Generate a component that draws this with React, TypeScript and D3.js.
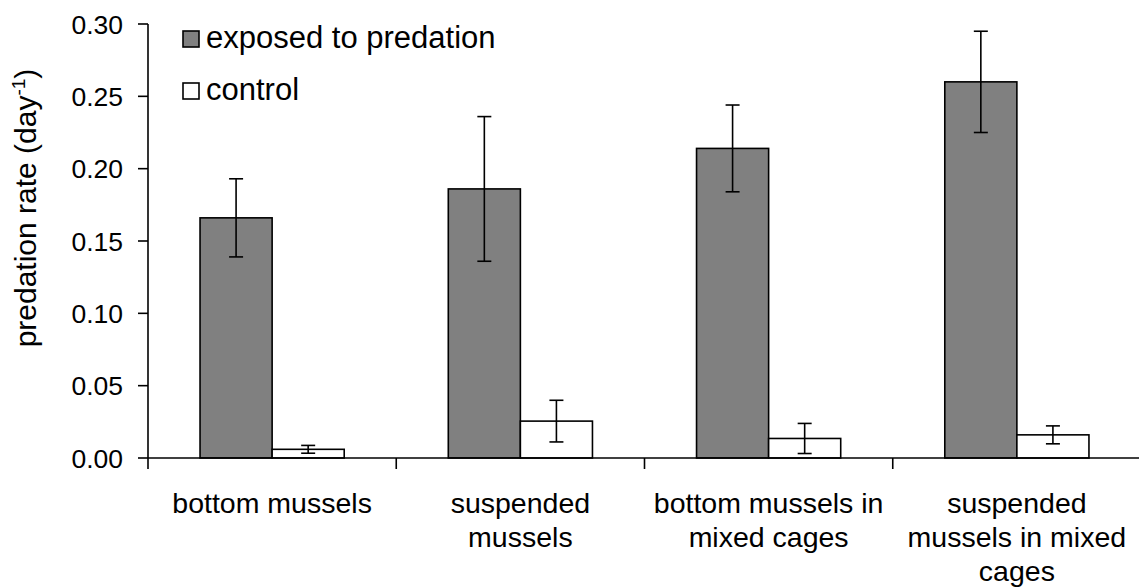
import React from "react";
import * as d3 from "d3";

const categories = [
  "bottom mussels",
  "suspended mussels",
  "bottom mussels in mixed cages",
  "suspended mussels in mixed cages",
];
const categoryLines = [
  ["bottom mussels"],
  ["suspended", "mussels"],
  ["bottom mussels in", "mixed cages"],
  ["suspended", "mussels in mixed", "cages"],
];
const seriesNames = ["exposed to predation", "control"];
const exposed = [0.166, 0.186, 0.214, 0.26];
const exposedErr = [0.027, 0.05, 0.03, 0.035];
const control = [0.006, 0.0255, 0.0135, 0.016];
const controlErr = [0.0027, 0.0144, 0.0104, 0.0062];
const yTicks = [0, 0.05, 0.1, 0.15, 0.2, 0.25, 0.3];

const W = 1139;
const H = 587;
const FONT = "'Liberation Sans', Arial, sans-serif";

export default function App() {
  const left = 148;
  const right = 1141;
  const top = 24;
  const bottom = 458;

  const y = d3.scaleLinear().domain([0, 0.3]).range([bottom, top]);
  const x0 = d3.scaleBand<string>().domain(categories).range([left, right]).padding(0);
  const x1 = d3
    .scaleBand<string>()
    .domain(seriesNames)
    .range([0, x0.bandwidth()])
    .paddingInner(0)
    .paddingOuter(0.722);

  const series = [
    { name: seriesNames[0], values: exposed, errs: exposedErr, fill: "#808080" },
    { name: seriesNames[1], values: control, errs: controlErr, fill: "#ffffff" },
  ];

  const capHalf = 7;

  return (
    <svg
      width={W}
      height={H}
      style={{ position: "absolute", left: 0, top: 0, background: "#fff" }}
      fontFamily={FONT}
    >
      {/* bars */}
      {series.map((s) =>
        categories.map((c, i) => {
          const bx = x0(c)! + x1(s.name)!;
          return (
            <rect
              key={s.name + c}
              x={bx}
              y={y(s.values[i])}
              width={x1.bandwidth()}
              height={y(0) - y(s.values[i])}
              fill={s.fill}
              stroke="#000"
              strokeWidth={1.6}
            />
          );
        })
      )}
      {/* error bars */}
      {series.map((s) =>
        categories.map((c, i) => {
          const cx = x0(c)! + x1(s.name)! + x1.bandwidth() / 2;
          const hi = y(s.values[i] + s.errs[i]);
          const lo = y(s.values[i] - s.errs[i]);
          return (
            <g key={"e" + s.name + c} stroke="#000" strokeWidth={1.6}>
              <line x1={cx} x2={cx} y1={hi} y2={lo} />
              <line x1={cx - capHalf} x2={cx + capHalf} y1={hi} y2={hi} />
              <line x1={cx - capHalf} x2={cx + capHalf} y1={lo} y2={lo} />
            </g>
          );
        })
      )}
      {/* y axis */}
      <line x1={left} x2={left} y1={top} y2={bottom} stroke="#000" strokeWidth={1.6} />
      {yTicks.map((t) => (
        <g key={"yt" + t}>
          <line x1={left - 10} x2={left} y1={y(t)} y2={y(t)} stroke="#000" strokeWidth={1.6} />
          <text
            x={123}
            y={y(t)}
            dy="0.36em"
            textAnchor="end"
            fontSize={26.5}
            fill="#000"
          >
            {t.toFixed(2)}
          </text>
        </g>
      ))}
      {/* x axis */}
      <line x1={left} x2={right} y1={bottom} y2={bottom} stroke="#000" strokeWidth={1.6} />
      {categories.map((c) => (
        <line
          key={"xt" + c}
          x1={x0(c)!}
          x2={x0(c)!}
          y1={bottom}
          y2={bottom + 11}
          stroke="#000"
          strokeWidth={1.6}
        />
      ))}
      {categories.map((c, i) => (
        <text
          key={"xl" + c}
          x={x0(c)! + x0.bandwidth() / 2}
          y={513}
          textAnchor="middle"
          fontSize={28.5}
          fill="#000"
        >
          {categoryLines[i].map((ln, j) => (
            <tspan key={j} x={x0(c)! + x0.bandwidth() / 2} dy={j === 0 ? 0 : 34}>
              {ln}
            </tspan>
          ))}
        </text>
      ))}
      {/* y axis title */}
      <text
        transform="translate(36,208) rotate(-90)"
        textAnchor="middle"
        fontSize={30}
        fill="#000"
      >
        predation rate (day
        <tspan fontSize={19} dy={-11}>-1</tspan>
        <tspan dy={11}>)</tspan>
      </text>
      {/* legend */}
      {series.map((s, i) => (
        <g key={"lg" + s.name}>
          <rect
            x={183}
            y={31 + i * 52}
            width={16}
            height={16}
            fill={s.fill}
            stroke="#000"
            strokeWidth={1.6}
          />
          <text x={206} y={48 + i * 52} fontSize={31} fill="#000">
            {s.name}
          </text>
        </g>
      ))}
    </svg>
  );
}
